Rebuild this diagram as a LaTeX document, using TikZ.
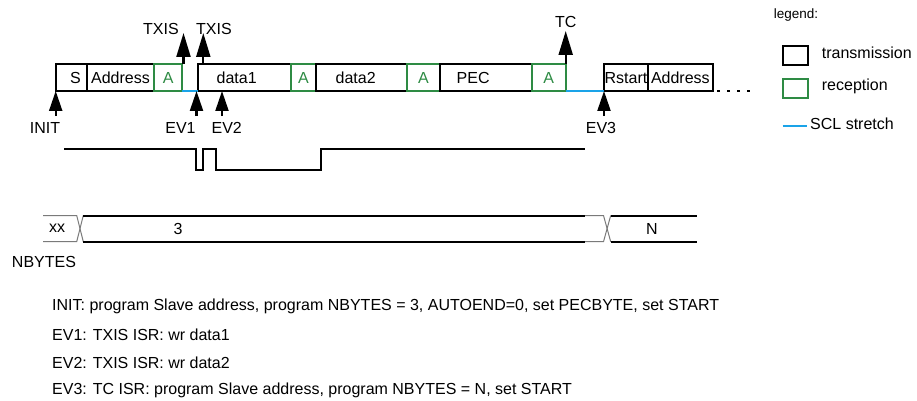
\documentclass[tikz,border=0pt]{standalone}
\usepackage{fontspec}
\setmainfont{Liberation Sans}
\usetikzlibrary{arrows.meta,positioning}
\definecolor{rxgreen}{HTML}{2E8B44}
\definecolor{sclblue}{HTML}{1AA3E8}
\definecolor{busgray}{HTML}{7A7A7A}

\begin{document}
\begin{tikzpicture}[
    x=1pt, y=-1pt,
    every node/.style={font=\fontsize{16}{19}\selectfont, inner sep=1pt},
    txbox/.style={draw, line width=2pt, minimum height=26.5pt, minimum width=#1, outer sep=0pt, inner xsep=0pt},
    rxbox/.style={txbox=#1, draw=rxgreen, text=rxgreen},
    flagarrow/.style={-{Triangle[length=24pt, width=14pt]}, line width=2.2pt},
    evarrow/.style={-{Triangle[length=20pt, width=13pt]}, line width=2.2pt},
    sclline/.style={sclblue, line width=1.5pt},
    dotline/.style={line width=2pt, dash pattern=on 3pt off 7pt},
    wave/.style={line width=2pt},
    bus/.style={line width=2pt},
    xbus/.style={busgray, line width=1pt},
    note/.style={anchor=west}
  ]
  \useasboundingbox (0,0) rectangle (917,401);

  % Frame on the bus
  \node[txbox=31.3pt, anchor=west, align=right, text width=18.7pt, inner xsep=6.3pt] (s) at (55.7,77.75) {S};
  \node[txbox=67pt, right=0pt of s] (addr) {Address};
  \node[rxbox=28.3pt, right=0pt of addr] (a1) {A};
  \node[txbox=92.7pt, right=15.7pt of a1, align=left, text width=55.3pt, inner xsep=18.7pt] (data1) {data1};
  \node[rxbox=25.3pt, right=0pt of data1] (a2) {A};
  \node[txbox=90.7pt, right=0pt of a2, align=left, text width=51.3pt, inner xsep=19.7pt] (data2) {data2};
  \node[rxbox=33.3pt, right=0pt of data2] (a3) {A};
  \node[txbox=92pt, right=0pt of a3, align=left, text width=58.6pt, inner xsep=16.7pt] (pec) {PEC};
  \node[rxbox=33.5pt, right=0pt of pec] (a4) {A};
  \node[txbox=44pt, right=38.5pt of a4] (rstart) {Rstart};
  \node[txbox=64.7pt, right=0pt of rstart] (addr2) {Address};

  % SCL stretch and continuation
  \draw[sclline] (a1.south east) -- (data1.south west);
  \draw[sclline] (a4.south east) -- (rstart.south west);
  \coordinate[right=37.3pt of addr2.south east] (dotsend);
  \draw[dotline] ([xshift=4.3pt]addr2.south east) -- (dotsend);

  % Flags
  \node (txis1) at (161,29) {TXIS};
  \node (txis2) at (214,29) {TXIS};
  \node (tc) at (565.7,21.7) {TC};
  \coordinate (txis1tip) at (183.5,33);
  \coordinate (txis2tip) at (203.3,33);
  \coordinate (tctip) at (565.7,31);
  \draw[flagarrow] (txis1tip |- a1.north) -- (txis1tip);
  \draw[flagarrow] (txis2tip |- data1.north) -- (txis2tip);
  \draw[flagarrow] (tctip |- a4.north) -- (tctip);

  % Events
  \node (init) at (45,128) {INIT};
  \node (ev1) at (180.5,128) {EV1};
  \node (ev2) at (226.7,128) {EV2};
  \node (ev3) at (601,128) {EV3};
  \coordinate (initfoot) at (55.7,116);
  \coordinate (ev1foot) at (196.5,116);
  \coordinate (ev2foot) at (222,116);
  \coordinate (ev3foot) at (604,116);
  \draw[evarrow] (initfoot) -- (initfoot |- s.south);
  \draw[evarrow] (ev1foot) -- (ev1foot |- data1.south);
  \draw[evarrow] (ev2foot) -- (ev2foot |- data1.south);
  \draw[evarrow] (ev3foot) -- (ev3foot |- rstart.south);

  % SCL line
  \draw[wave] (64.3,149.3) -- (196,149.3) -- (196,170) -- (203.3,170) -- (203.3,149.3)
    -- (215.5,149.3) -- (215.5,170) -- (321,170) -- (321,149.3) -- (585,149.3);

  % NBYTES bus
  \draw[xbus] (43,215.5) -- (76.7,215.5) -- (83.3,241.7);
  \draw[xbus] (43,241.7) -- (76.7,241.7) -- (83.3,215.5);
  \draw[bus] (83.3,215.5) -- (585,215.5);
  \draw[bus] (83.3,241.7) -- (585,241.7);
  \draw[xbus] (585,215.5) -- (603.5,215.5) -- (610.7,241.7);
  \draw[xbus] (585,241.7) -- (603.5,241.7) -- (610.7,215.5);
  \draw[bus] (610.7,215.5) -- (696.7,215.5);
  \draw[bus] (610.7,241.7) -- (696.7,241.7);
  \node (xx) at (57,228.6) {xx};
  \node (three) at (178,228.6) {3};
  \node (nval) at (652,228.6) {N};
  \node (nbytes) at (44,261.7) {NBYTES};

  % Legend
  \node[font=\fontsize{13.5}{16}\selectfont] (legend) at (796,15) {legend:};
  \node[draw, line width=2pt, minimum width=25.6pt, minimum height=19.3pt, inner sep=0pt] (lgtx) at (795.5,55.7) {};
  \node[note] (lgtxtext) at (820.7,53) {transmission};
  \node[draw=rxgreen, line width=2pt, minimum width=25.6pt, minimum height=19.3pt, inner sep=0pt] (lgrx) at (795.5,88.8) {};
  \node[note] (lgrxtext) at (820.7,86.7) {reception};
  \node[note] (lgscltext) at (809,124) {SCL stretch};
  \coordinate (lgscl) at (782.7,126);
  \draw[sclline] (lgscl) -- ([xshift=-2pt]lgscl -| lgscltext.west);

  % Notes
  \node[note] (note1) at (51,306) {INIT: program Slave address, program NBYTES = 3, AUTOEND=0, set PECBYTE, set START};
  \node[note] (note2) at (51,334.3) {EV1: TXIS ISR: wr data1};
  \node[note] (note3) at (51,362.7) {EV2: TXIS ISR: wr data2};
  \node[note] (note4) at (51,390.7) {EV3: TC ISR: program Slave address, program NBYTES = N, set START};
\end{tikzpicture}
\end{document}
